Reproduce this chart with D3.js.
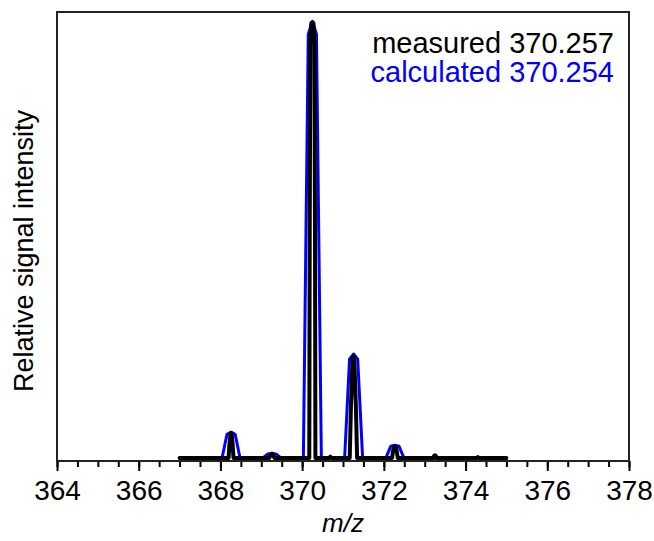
<!DOCTYPE html>
<html>
<head>
<meta charset="utf-8">
<script src="https://cdn.jsdelivr.net/npm/d3@7"></script>
<style>
  body { margin: 0; background: #fff; }
  svg { font-family: "Liberation Sans", Arial, sans-serif; }
  .line { fill: none; stroke-linejoin: round; stroke-linecap: round; }
</style>
</head>
<body>
<script>
const WIDTH = 654;
const HEIGHT = 541;
const MARGIN = {top: 12, right: 25, bottom: 80, left: 57};
const INNER_WIDTH = WIDTH - MARGIN.left - MARGIN.right;
const INNER_HEIGHT = HEIGHT - MARGIN.top - MARGIN.bottom;

// m/z, relative intensity (%)
var measured = [
  [367.00, 0], [368.20, 0], [368.22, 3.0], [368.245, 5.4], [368.26, 5.7], [368.275, 5.4], [368.30, 3.0], [368.32, 0],
  [369.20, 0], [369.23, 0.8], [369.26, 1.0], [369.29, 0.8], [369.32, 0],
  [370.175, 0], [370.185, 50], [370.20, 95], [370.225, 99.6], [370.275, 99.6], [370.30, 95], [370.315, 50], [370.325, 0],
  [370.66, 0], [370.69, 0.3], [370.72, 0],
  [371.165, 0], [371.195, 12], [371.235, 22.6], [371.255, 23.2], [371.275, 22.6], [371.315, 12], [371.345, 0],
  [372.20, 0], [372.225, 1.6], [372.25, 2.6], [372.27, 2.7], [372.29, 2.6], [372.315, 1.6], [372.34, 0],
  [373.21, 0], [373.23, 0.5], [373.25, 0.6], [373.27, 0.5], [373.29, 0],
  [374.27, 0], [374.30, 0.2], [374.33, 0],
  [375.00, 0]
];

var calculated = [
  [367.00, 0], [368.04, 0], [368.16, 5.4], [368.26, 5.9], [368.36, 5.4], [368.48, 0],
  [369.04, 0], [369.16, 0.9], [369.26, 1.0], [369.36, 0.9], [369.48, 0],
  [370.03, 0], [370.15, 97], [370.25, 100], [370.35, 97], [370.47, 0],
  [371.04, 0], [371.16, 22.6], [371.26, 23.8], [371.36, 22.6], [371.48, 0],
  [372.05, 0], [372.17, 2.7], [372.27, 2.9], [372.37, 2.7], [372.49, 0],
  [375.00, 0]
];

var majorTicks = [364, 366, 368, 370, 372, 374, 376, 378];
var minorTicks = d3.range(364, 378.01, 0.5);
var legendLabels = ["measured 370.257", "calculated 370.254"];
var legendColors = ["#000000", "#0000ff"];

var translate = function(x, y){
  return "translate(" + x + "," + y + ")";
};

var xScale = d3.scaleLinear()
  .domain([364, 378])
  .range([0, INNER_WIDTH]);

var yScale = d3.scaleLinear()
  .domain([-0.7, 102.1])
  .range([INNER_HEIGHT, 0]);

var line = d3.line()
  .x(function(d){ return xScale(d[0]); })
  .y(function(d){ return yScale(d[1]); });

var svg = d3.select('body')
  .append('svg')
  .attr('width', WIDTH)
  .attr('height', HEIGHT);

var plot = svg.append('g')
  .attr('transform', translate(MARGIN.left, MARGIN.top));

// traces
plot.append('path')
  .classed('line', true)
  .attr('d', line(calculated))
  .attr('stroke', '#0000ff')
  .attr('stroke-width', 3);

plot.append('path')
  .classed('line', true)
  .attr('d', line(measured))
  .attr('stroke', '#000')
  .attr('stroke-width', 4);

// axes
var minorAxis = d3.axisBottom(xScale).tickValues(minorTicks).tickSize(6).tickFormat('');
var majorAxis = d3.axisBottom(xScale).tickValues(majorTicks).tickSize(10).tickPadding(9).tickFormat(d3.format('d'));

var gMinor = plot.append('g')
  .attr('transform', translate(0, INNER_HEIGHT))
  .call(minorAxis);

var gMajor = plot.append('g')
  .attr('transform', translate(0, INNER_HEIGHT))
  .call(majorAxis);

[gMinor, gMajor].forEach(function(g){
  g.select('.domain').remove();
  g.selectAll('line').attr('stroke', '#000').attr('stroke-width', 2);
});

gMajor.selectAll('text')
  .attr('fill', '#000')
  .style('font-size', '28px');

// frame
plot.append('rect')
  .attr('x', 0)
  .attr('y', 0)
  .attr('width', INNER_WIDTH)
  .attr('height', INNER_HEIGHT)
  .attr('fill', 'none')
  .attr('stroke', '#222')
  .attr('stroke-width', 2);

// labels
svg.append('text')
  .attr('x', MARGIN.left + INNER_WIDTH / 2)
  .attr('y', 532)
  .attr('text-anchor', 'middle')
  .style('font-size', '26px')
  .style('font-style', 'italic')
  .text('m/z');

svg.append('text')
  .attr('transform', translate(33, 251) + ' rotate(-90)')
  .attr('text-anchor', 'middle')
  .style('font-size', '27px')
  .text('Relative signal intensity');

svg.selectAll('.legend')
  .data(legendLabels)
  .enter()
  .append('text')
  .classed('legend', true)
  .attr('x', 614)
  .attr('y', function(d, i){ return 53 + i * 29; })
  .attr('text-anchor', 'end')
  .attr('fill', function(d, i){ return legendColors[i]; })
  .style('font-size', '29px')
  .text(function(d){ return d; });
</script>
</body>
</html>
